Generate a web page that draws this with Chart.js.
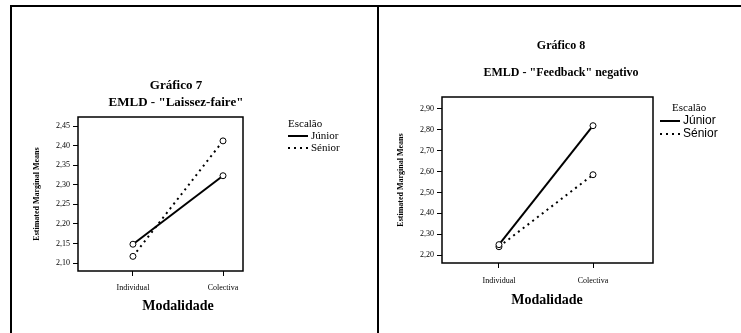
<!DOCTYPE html>
<html><head><meta charset="utf-8">
<script src="https://cdn.jsdelivr.net/npm/chart.js@4.4.1/dist/chart.umd.min.js"></script>
<style>
html,body{margin:0;padding:0;background:#fff;}
#wrap{position:relative;width:741px;height:333px;overflow:hidden;background:#fff;}
.frame{position:absolute;left:10px;top:5px;width:800px;height:400px;border-left:2px solid #000;border-top:2px solid #000;}
.divider{position:absolute;left:377px;top:5px;width:2px;height:340px;background:#000;}
canvas{position:absolute;top:0;}
</style></head><body>
<div id="wrap">
<div class="frame"></div>
<div class="divider"></div>
<canvas id="c1" width="378" height="333" style="left:0;width:378px;height:333px;"></canvas>
<canvas id="c2" width="363" height="333" style="left:378px;width:363px;height:333px;"></canvas>
</div>
<script>
// ---- data ----
const categories = ['Individual', 'Colectiva'];
const seriesNames = ['Júnior', 'Sénior'];
const g7Junior = [2.148, 2.323];
const g7Senior = [2.117, 2.412];
const g7Ticks = [2.10, 2.15, 2.20, 2.25, 2.30, 2.35, 2.40, 2.45];
const g8Junior = [2.250, 2.820];
const g8Senior = [2.240, 2.585];
const g8Ticks = [2.20, 2.30, 2.40, 2.50, 2.60, 2.70, 2.80, 2.90];

const SERIF = '"Liberation Serif", "Times New Roman", serif';
const SANS = '"Liberation Sans", Arial, sans-serif';

function pts(arr) { return categories.map((c, i) => ({ x: i, y: arr[i] })); }

const boxPlugin = {
  id: 'box',
  afterDraw(chart) {
    const a = chart.chartArea, ctx = chart.ctx;
    ctx.save();
    ctx.strokeStyle = '#000';
    ctx.lineWidth = 1.5;
    ctx.strokeRect(a.left, a.top, a.right - a.left, a.bottom - a.top);
    ctx.restore();
  }
};

const decoPlugin = {
  id: 'deco',
  afterDraw(chart, args, o) {
    const ctx = chart.ctx;
    ctx.save();
    ctx.fillStyle = '#000';
    ctx.textAlign = 'center';
    ctx.textBaseline = 'middle';
    ctx.font = 'bold ' + o.titleSize + 'px ' + SERIF;
    ctx.fillText(o.title1, o.titleX, o.title1Y);
    ctx.fillText(o.title2, o.titleX, o.title2Y);
    ctx.font = 'bold 14px ' + SERIF;
    ctx.fillText('Modalidade', o.xTitleX, o.xTitleY);
    // legend
    ctx.textAlign = 'left';
    ctx.font = o.legTitleSize + 'px ' + SERIF;
    ctx.fillText('Escalão', o.legTitleX, o.legY[0]);
    chart.data.datasets.forEach((ds, i) => {
      const y = o.legY[i + 1];
      ctx.beginPath();
      ctx.setLineDash(ds.borderDash || []);
      ctx.lineWidth = ds.borderWidth;
      ctx.strokeStyle = ds.borderColor;
      ctx.moveTo(o.legLineX[0], y);
      ctx.lineTo(o.legLineX[1], y);
      ctx.stroke();
      ctx.setLineDash([]);
      ctx.font = o.legSize + 'px ' + o.legFont;
      ctx.fillText(ds.label, o.legTextX, y);
    });
    ctx.restore();
  }
};

function makeChart(id, junior, senior, yTicks, cfg) {
  const tickFont = { family: SERIF, size: 8 };
  return new Chart(document.getElementById(id), {
    type: 'line',
    data: {
      datasets: [
        { label: seriesNames[0], data: pts(junior), borderColor: '#000', borderWidth: 2,
          pointRadius: 3, pointBorderWidth: 1, pointBackgroundColor: '#fff', pointBorderColor: '#000', tension: 0 },
        { label: seriesNames[1], data: pts(senior), borderColor: '#000', borderWidth: 2, borderDash: [2, 4],
          pointRadius: 3, pointBorderWidth: 1, pointBackgroundColor: '#fff', pointBorderColor: '#000', tension: 0 }
      ]
    },
    options: {
      responsive: false, animation: false, devicePixelRatio: 1,
      layout: { padding: cfg.padding },
      plugins: { legend: { display: false }, title: { display: false }, tooltip: { enabled: false },
        deco: cfg.deco },
      scales: {
        x: {
          type: 'linear', min: cfg.xMin, max: cfg.xMax,
          afterBuildTicks: s => { s.ticks = categories.map((c, i) => ({ value: i })); },
          afterFit: s => { s.height = cfg.xH; },
          ticks: { callback: v => categories[v], font: tickFont, color: '#000', padding: cfg.xPad, maxRotation: 0, autoSkip: false },
          grid: { drawOnChartArea: false, tickLength: 5, color: '#000', lineWidth: 1 },
          border: { display: false },
          title: { display: false }
        },
        y: {
          min: cfg.yMin, max: cfg.yMax,
          afterBuildTicks: s => { s.ticks = yTicks.map(v => ({ value: v })); },
          afterFit: s => { s.width = cfg.yW; },
          ticks: { callback: v => v.toFixed(2).replace('.', ','), font: tickFont, color: '#000', padding: 3, autoSkip: false },
          grid: { drawOnChartArea: false, tickLength: 5, color: '#000', lineWidth: 1 },
          border: { display: false },
          title: { display: true, text: 'Estimated Marginal Means', color: '#000', font: { family: SERIF, size: 8, weight: 'bold' }, padding: 4 }
        }
      }
    },
    plugins: [boxPlugin, decoPlugin]
  });
}

makeChart('c1', g7Junior, g7Senior, g7Ticks, {
  padding: { left: 28, right: 135, top: 117, bottom: 17 },
  xMin: -0.61, xMax: 1.222, yMin: 2.0796, yMax: 2.473, xH: 45, yW: 50, xPad: 7,
  deco: { title1: 'Gráfico 7', title2: 'EMLD - "Laissez-faire"', titleSize: 13, titleX: 176, title1Y: 86, title2Y: 103,
    xTitleX: 178, xTitleY: 306,
    legTitleX: 288, legTitleSize: 11, legY: [124, 136, 148], legLineX: [288, 308], legTextX: 311, legSize: 11, legFont: SERIF }
});

makeChart('c2', g8Junior, g8Senior, g8Ticks, {
  padding: { left: 14, right: 88, top: 97, bottom: 25 },
  xMin: -0.606, xMax: 1.638, yMin: 2.162, yMax: 2.9575, xH: 45, yW: 50, xPad: 8,
  deco: { title1: 'Gráfico 8', title2: 'EMLD - "Feedback" negativo', titleSize: 12, titleX: 183, title1Y: 46, title2Y: 73,
    xTitleX: 169, xTitleY: 300,
    legTitleX: 294, legTitleSize: 11, legY: [108, 121, 134], legLineX: [282, 302], legTextX: 305, legSize: 12, legFont: SANS }
});
</script>
</body></html>
